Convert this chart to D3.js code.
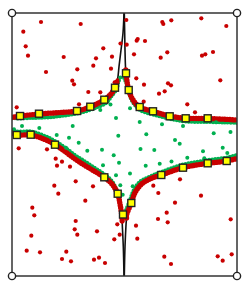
<!DOCTYPE html>
<html>
<head>
<meta charset="utf-8">
<script src="https://cdn.jsdelivr.net/npm/d3@7"></script>
<style>
  body { margin: 0; background: #fff; }
  svg { display: block; }
</style>
</head>
<body>
<svg id="chart" width="244" height="285"></svg>
<script>
// curve branches (red band part) and their black tails towards the asymptote
var ulCurve = [[0,158.5],[8,160],[27,162],[48,163.5],[65,165],[78,169],[92,176],[98,181],[103,188],[105.5,196]];
var ulTail = [[105.5,196],[107,209.3],[109,226],[111,243],[112,263]];
var urTail = [[112.3,263],[112.7,243],[113,226],[113.5,209.3],[113.8,206]];
var urCurve = [[113.8,206],[114,203],[115,195],[116.7,186],[121,176],[127.7,169],[141,164.7],[157.7,160],[173.7,157.7],[195.7,157.5],[213,156.7],[225,156]];
var llCurve = [[0,143],[4.7,141],[18.7,141],[33,136.5],[43,131.3],[53,124.5],[63,117],[73,110.5],[83,104.5],[92.3,98.7],[100,92],[105.7,82.3],[108,72],[109.7,61.3],[110.2,54]];
var llTail = [[110.2,54],[110.3,51],[111.3,29.3],[112,0]];
var lrTail = [[112.3,0],[113,29.3],[114,51],[114.5,58]];
var lrCurve = [[114.5,58],[114.5,61],[119.3,73],[123.3,84],[130,92.3],[140,98],[149.3,101],[171,108.3],[195.7,112.7],[214.7,115],[225,117.5]];

// green points packed along the inner side of each branch
var ulGreen = [[0,158.2],[3.7,157.6],[20,158],[36.3,158.6],[53,160.5],[69.7,163.5],[84.7,168.5],[94.7,173.5],[99.7,180],[104.7,187],[106.5,194.3],[109,200]];
var urGreen = [[112,198],[115,191],[117.5,181],[122,172],[128.5,165.5],[141,161.5],[158,157],[174,154.5],[196,154],[213,153.5],[225,153]];
var llGreen = [[0,146],[5,144.5],[19,144.5],[33,140],[43,135],[53,128.5],[63,121],[73,114.5],[83,108],[92,102],[99.5,95.5],[104.5,86.5],[107.5,76],[109,66]];
var lrGreen = [[114,66],[118,76],[121.5,85.5],[128,94.5],[138,99.5],[149,104],[171,111.5],[196,116],[215,118.5],[225,121]];

// marked points on the branches
var squares = [[8,160],[27,162.3],[65,165],[78.3,169.3],[92.3,176.3],[103,188.3],
  [114,202.7],[116.7,186],[127.7,169],[141,164.7],[157.7,159.7],[173.7,157.7],[195.7,157.7],
  [4.7,141],[18.7,141.3],[43,131.3],[92.3,98.7],[105.7,82.3],[111,61.5],
  [119.3,73],[149.3,101],[171,108.3],[195.7,112.7],[214.7,115]];

// scattered outside points
var redPts = [[29,254],[68.7,252],[11.3,244.3],[13.7,229.7],[16,220.3],[51.7,219],[91.3,227.7],[100,219.3],
  [108.5,232.5],[84,217.7],[81.3,210.3],[65.3,206.7],[34,204],[99,207.3],[60.3,195.3],[62,191.7],
  [76.3,184],[88.3,183.7],[102.7,193.7],[4.7,168.7],[67,171.7],
  [114.3,256],[150.3,254],[151.3,252],[159.3,255.7],[189.3,257.7],[214.3,250],[124.7,235.3],[125.7,237],
  [133,235],[114.7,231.3],[122,221.7],[155.3,223.7],[148.7,218.3],[190,220.3],[193.3,221.7],[201,224],
  [124.3,197.7],[156,192.7],[159,190.7],[208.3,195.7],[132,191.3],[152.7,184.7],[147,182.3],[175.3,171.7],
  [183,163.7],[131.7,174.3],
  [6.7,127.7],[35,126.7],[43.7,117.3],[50,114.3],[45,110.3],[58,109.3],[63.7,94.7],[81,89.7],[42.3,90.3],
  [46.3,82.3],[73.3,75.3],[20.3,68.3],[22.3,60.7],[63.7,55],[62.7,46.7],[65.3,41.3],[85,44.7],[19.3,40.3],
  [102.3,36.7],[105.3,51.7],[107.7,41.3],[14.7,25.3],[28,23.7],[54.3,24.3],[50,17],[59,14.7],[82,16.3],
  [87,18.3],[93,13],
  [141.3,90.3],[146.3,83],[168,96.7],[189,80.3],[163,73.3],[154.7,63.3],[146,57],[155.7,53.7],[124,50.3],
  [125.3,37.3],[218.7,56.7],[152.3,19.3],[159,12],[205.7,19.7],[210.7,15.3],[219.7,21.7]];

// scattered inside points
var greenPts = [[10,150],[27.3,148],[2,146.7],[60.7,150],[88.3,166],[98.5,171.5],[104,158],[106.3,140.3],
  [57,138.3],[44.7,141],[66.7,133.3],[75.3,125.3],[90,126.3],[101.7,120.7],[107,113.3],[91,110.7],
  [104,100.7],[108.3,90.7],[54,128.3],[118,167.7],[127.7,154],[150,151.7],[171,150],[134.3,141.7],
  [163,136],[201.7,142.7],[218.5,144],[204,153.7],[128.5,127],[142.3,126],[167.7,132.3],[191,124.7],
  [210.7,128.3],[215.3,123],[133.7,110.3],[147.7,112.3],[159.5,114.5],[175.3,118.3],[192.3,117.7],
  [118,102.5],[120.7,89.7],[110.7,81.3]];

var xDomain = [0, 225];
var yDomain = [0, 263];

var svg = d3.select("#chart");
var x = d3.scaleLinear().domain(xDomain).range([12, 237]);
var y = d3.scaleLinear().domain(yDomain).range([276, 13]);

svg.append("defs").append("clipPath").attr("id", "plot-clip")
    .append("rect")
    .attr("x", x(0)).attr("y", y(263))
    .attr("width", x(225) - x(0)).attr("height", y(0) - y(263));

var plot = svg.append("g").attr("clip-path", "url(#plot-clip)");

let line = d3.line()
    .x(d => x(d[0]))
    .y(d => y(d[1]))
    .curve(d3.curveCatmullRom.alpha(0.5));

// black curve under everything
[ulCurve.concat(ulTail.slice(1)), urTail.concat(urCurve.slice(1)),
 llCurve.concat(llTail.slice(1)), lrTail.concat(lrCurve.slice(1))].forEach(c => {
    plot.append("path")
        .attr("d", line(c))
        .attr("fill", "none")
        .attr("stroke", "#111")
        .attr("stroke-width", 1.6);
});

// green band (dotted)
[ulGreen, urGreen, llGreen, lrGreen].forEach(c => {
    plot.append("path")
        .attr("d", line(c))
        .attr("fill", "none")
        .attr("stroke", "#00b050")
        .attr("stroke-width", 4)
        .attr("stroke-dasharray", "0,3")
        .attr("stroke-linecap", "round");
});

// red band: solid core plus a dotted rim
[ulCurve, urCurve, llCurve, lrCurve].forEach(c => {
    plot.append("path")
        .attr("d", line(c))
        .attr("fill", "none")
        .attr("stroke", "#c80000")
        .attr("stroke-width", 3.6)
        .attr("stroke-linecap", "round");
    plot.append("path")
        .attr("d", line(c))
        .attr("fill", "none")
        .attr("stroke", "#c80000")
        .attr("stroke-width", 5.4)
        .attr("stroke-dasharray", "0,2.6")
        .attr("stroke-linecap", "round");
});

plot.selectAll(".gdot")
    .data(greenPts)
    .enter()
    .append("circle")
    .attr("cx", d => x(d[0]))
    .attr("cy", d => y(d[1]))
    .attr("r", 2)
    .style("fill", "#00b050");

plot.selectAll(".rdot")
    .data(redPts)
    .enter()
    .append("circle")
    .attr("cx", d => x(d[0]))
    .attr("cy", d => y(d[1]))
    .attr("r", 2.1)
    .style("fill", "#c80000");

plot.selectAll(".sq")
    .data(squares)
    .enter()
    .append("rect")
    .attr("x", d => x(d[0]) - 3.5)
    .attr("y", d => y(d[1]) - 3.5)
    .attr("width", 7)
    .attr("height", 7)
    .style("fill", "#ffff00")
    .style("stroke", "#222")
    .style("stroke-width", 1.4);

// frame
svg.append("rect")
    .attr("x", x(0)).attr("y", y(263))
    .attr("width", x(225) - x(0)).attr("height", y(0) - y(263))
    .attr("fill", "none")
    .attr("stroke", "#333")
    .attr("stroke-width", 1.5);

var corners = [[0,0],[225,0],[0,263],[225,263]];
svg.selectAll(".corner")
    .data(corners)
    .enter()
    .append("circle")
    .attr("cx", d => x(d[0]))
    .attr("cy", d => y(d[1]))
    .attr("r", 3.6)
    .style("fill", "#fff")
    .style("stroke", "#222")
    .style("stroke-width", 1.4);
</script>
</body>
</html>
